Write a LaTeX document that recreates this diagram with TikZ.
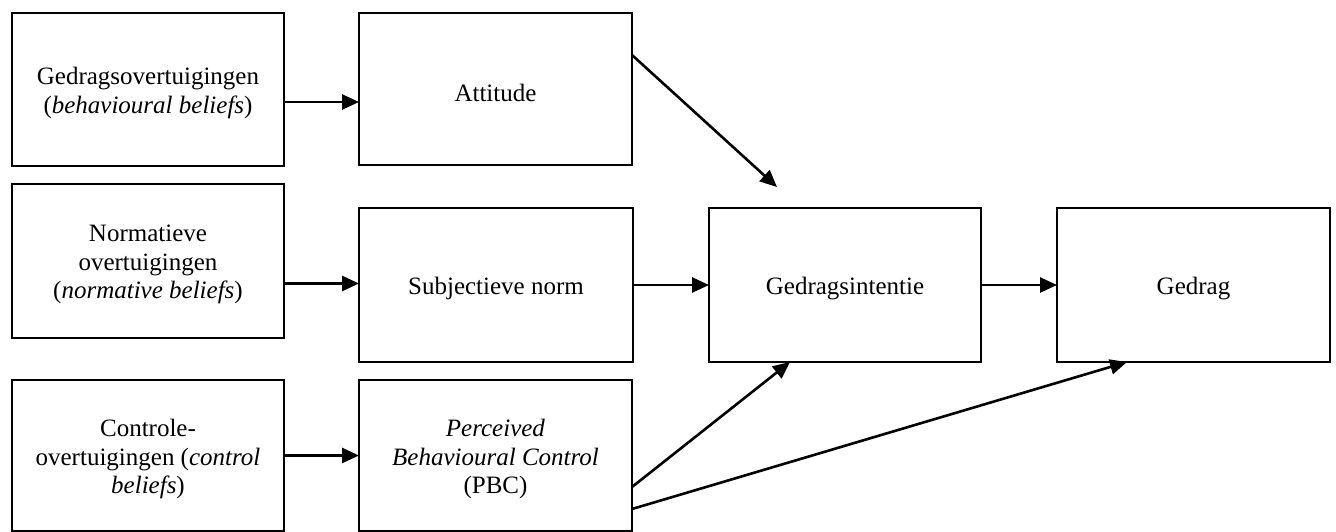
\documentclass[tikz,border=0pt]{standalone}
\usepackage{fontspec}
\setmainfont{Liberation Serif}
\usetikzlibrary{arrows.meta}
\begin{document}
\begin{tikzpicture}[x=1pt,y=-1pt,
  box/.style={draw=black,line width=2.6pt,inner sep=0pt,outer sep=0pt,
    minimum width=272pt,minimum height=153pt},
  txt/.style={inner sep=0pt,align=center,yshift=-3.5pt,
    font=\fontsize{25}{28.5}\selectfont},
  arr/.style={draw=black,line width=2.6pt,-{Triangle[length=17pt,width=15pt]}}]
\useasboundingbox (0,0) rectangle (1336,532);
\node[box] (b1) at (148,89.5) {};
\node[box,minimum width=273pt,minimum height=152pt] (att) at (495.5,89) {};
\node[box,minimum height=154pt] (b2) at (148,261) {};
\node[box,minimum width=274pt,minimum height=154pt] (subj) at (496,285) {};
\node[box,minimum height=154pt] (gi) at (845,285) {};
\node[box,minimum width=273pt,minimum height=154pt] (ged) at (1193.5,285) {};
\node[box,minimum height=151pt] (b3) at (148,455.5) {};
\node[box,minimum width=273pt,minimum height=151pt] (pbc) at (495.5,455.5) {};
\node[txt] (b1t) at (b1.center) {Gedragsovertuigingen\\(\textit{behavioural beliefs})};
\node[txt] (attt) at (att.center) {Attitude};
\node[txt] (b2t) at (b2.center) {Normatieve\\overtuigingen\\(\textit{normative beliefs})};
\node[txt] (subjt) at (subj.center) {Subjectieve norm};
\node[txt] (git) at (gi.center) {Gedragsintentie};
\node[txt] (gedt) at (ged.center) {Gedrag};
\node[txt] (b3t) at (b3.center) {Controle-\\overtuigingen (\textit{control}\\\textit{beliefs})};
\node[txt] (pbct) at (pbc.center) {\textit{Perceived}\\\textit{Behavioural Control}\\(PBC)};
\coordinate (p1) at ([yshift=-12.5pt]b1.east);
\coordinate (p2) at ([yshift=-22.5pt]b2.east);
\coordinate (attout) at ([yshift=34pt]att.east);
\coordinate (attend) at (777,187);
\coordinate (pbc1) at ([yshift=-31.5pt]pbc.east);
\coordinate (pbc2) at ([yshift=-53.5pt]pbc.east);
\draw[arr] (p1) -- (p1 -| att.west);
\draw[arr] (p2) -- (p2 -| subj.west);
\draw[arr] (b3) -- (pbc);
\draw[arr] (subj) -- (gi);
\draw[arr] (gi) -- (ged);
\draw[arr] (attout) -- (attend);
\draw[arr] (pbc1) -- ([xshift=-55pt]gi.south);
\draw[arr] (pbc2) -- ([xshift=-66.5pt]ged.south);
\end{tikzpicture}
\end{document}
